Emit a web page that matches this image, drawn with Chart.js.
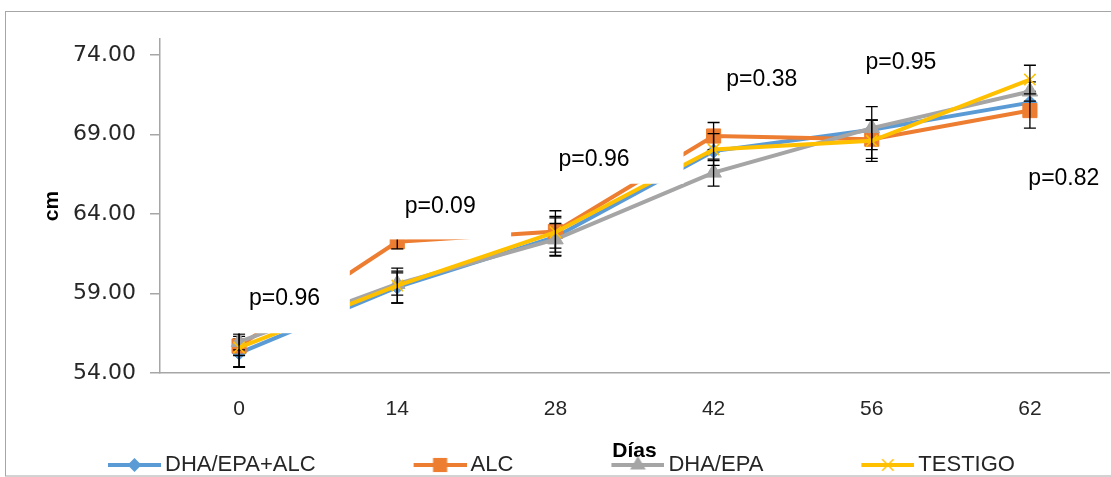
<!DOCTYPE html>
<html>
<head>
<meta charset="utf-8">
<script src="https://cdn.jsdelivr.net/npm/chart.js@4.4.1/dist/chart.umd.min.js"></script>
<style>
  html, body { margin: 0; padding: 0; background: #fff; }
  #wrap { width: 1111px; height: 477px; }
</style>
</head>
<body>
<div id="wrap"><canvas id="tallaChart"></canvas></div>
<script>
// Días de muestreo
const dias = ['0', '14', '28', '42', '56', '62'];

// Talla promedio (cm) por tratamiento
const dhaEpaAlc = [55.25, 59.4, 62.55, 67.95, 69.3, 71.0];
const alc       = [55.7, 62.25, 62.9, 68.9, 68.7, 70.5];
const dhaEpa    = [55.95, 59.6, 62.4, 66.6, 69.4, 71.7];
const testigo   = [55.6, 59.5, 62.85, 68.05, 68.6, 72.45];

// Desviación (barras de error)
const errDhaEpaAlc = [0.9, 1.0, 1.2, 0.6, 0.6, 0.7];
const errAlc       = [0.6, 0.45, 1.3, 0.85, 1.2, 1.1];
const errDhaEpa    = [0.5, 0.7, 1.0, 0.85, 1.35, 0.6];
const errTestigo   = [1.2, 1.1, 1.0, 1.0, 1.3, 0.9];

// Eje Y
const yTicks = [54, 59, 64, 69, 74];

// Valores p
const pValores = ['p=0.96', 'p=0.09', 'p=0.96', 'p=0.38', 'p=0.95', 'p=0.82'];

// cuadros de texto (en unidades de los ejes), tapan las líneas como en Excel
const cuadros = [
  { x0: -0.06, x1: 0.70, top: 60.9, bot: 56.5, tx: 0.063, ty: 58.69 },
  { x0: 0.93, x1: 1.72, top: 66.7, bot: 62.4, tx: 1.047, ty: 64.44 },
  { x0: 1.94, x1: 2.81, top: 69.6, bot: 65.9, tx: 2.02, ty: 67.44 },
  { x0: 3.01, x1: 3.68, top: 73.8, bot: 70.6, tx: 3.08, ty: 72.44 },
  { x0: 3.90, x1: 4.53, top: 74.8, bot: 71.8, tx: 3.96, ty: 73.5 },
  { x0: 4.93, x1: 5.49, top: 67.6, bot: 64.7, tx: 4.99, ty: 66.19 }
];

const FONT = "'Liberation Sans', Arial, sans-serif";

// dibuja un marcador simple
function marcador(ctx, estilo, x, y, r, color) {
  ctx.fillStyle = color;
  ctx.strokeStyle = color;
  ctx.beginPath();
  if (estilo === 'rectRot') {
    ctx.moveTo(x, y - r); ctx.lineTo(x + r, y); ctx.lineTo(x, y + r); ctx.lineTo(x - r, y);
    ctx.closePath(); ctx.fill();
  } else if (estilo === 'rect') {
    ctx.rect(x - r * 0.707, y - r * 0.707, r * 1.414, r * 1.414); ctx.fill();
  } else if (estilo === 'triangle') {
    ctx.moveTo(x, y - r); ctx.lineTo(x + r * 0.87, y + r * 0.5); ctx.lineTo(x - r * 0.87, y + r * 0.5);
    ctx.closePath(); ctx.fill();
  } else {
    ctx.lineWidth = 1.5;
    const d = r * 0.707;
    ctx.moveTo(x - d, y - d); ctx.lineTo(x + d, y + d);
    ctx.moveTo(x + d, y - d); ctx.lineTo(x - d, y + d);
    ctx.stroke();
  }
}

// icono de leyenda: línea con marcador (con espacio en blanco a la izquierda)
function iconoLeyenda(ds) {
  const c = document.createElement('canvas');
  c.width = 158; c.height = 22;
  const g = c.getContext('2d');
  g.strokeStyle = ds.borderColor;
  g.lineWidth = 4;
  g.beginPath(); g.moveTo(105, 11); g.lineTo(158, 11); g.stroke();
  marcador(g, ds.pointStyle, 131.5, 11, ds.pointRadius, ds.borderColor);
  return c;
}

const errorBars = {
  id: 'errorBars',
  afterDatasetDraw(chart, args) {
    const ds = chart.data.datasets[args.index];
    const y = chart.scales.y;
    const ctx = chart.ctx;
    ctx.save();
    ctx.strokeStyle = '#000';
    ctx.lineWidth = 1.3;
    args.meta.data.forEach((pt, j) => {
      const v = ds.data[j], e = ds.err[j];
      const t = y.getPixelForValue(v + e), b = y.getPixelForValue(v - e);
      ctx.beginPath();
      ctx.moveTo(pt.x, t); ctx.lineTo(pt.x, b);
      ctx.moveTo(pt.x - 6, t); ctx.lineTo(pt.x + 6, t);
      ctx.moveTo(pt.x - 6, b); ctx.lineTo(pt.x + 6, b);
      ctx.stroke();
    });
    ctx.restore();
  }
};

const etiquetasP = {
  id: 'etiquetasP',
  afterDatasetsDraw(chart) {
    const { ctx, scales: { x, y } } = chart;
    ctx.save();
    cuadros.forEach((c, i) => {
      const l = x.getPixelForValue(c.x0), r = x.getPixelForValue(c.x1);
      const t = y.getPixelForValue(c.top), b = y.getPixelForValue(c.bot);
      ctx.fillStyle = '#fff';
      ctx.fillRect(l, t, r - l, b - t);
      ctx.fillStyle = '#000';
      ctx.font = '23px ' + FONT;
      ctx.textAlign = 'left';
      ctx.textBaseline = 'middle';
      ctx.fillText(pValores[i], x.getPixelForValue(c.tx), y.getPixelForValue(c.ty));
    });
    ctx.restore();
  }
};

const marco = {
  id: 'marco',
  beforeDraw(chart) {
    const ctx = chart.ctx;
    ctx.save();
    ctx.fillStyle = '#fff';
    ctx.fillRect(0, 0, chart.width, chart.height);
    ctx.strokeStyle = '#a6a6a6';
    ctx.lineWidth = 1;
    ctx.strokeRect(5.5, 11.5, 1115, 464.5);
    ctx.restore();
  }
};

function serie(label, data, err, color, estilo, radio, orden) {
  return {
    label: label,
    data: data,
    err: err,
    borderColor: color,
    backgroundColor: color,
    borderWidth: 4,
    tension: 0,
    pointStyle: estilo,
    pointRadius: radio,
    pointBackgroundColor: color,
    pointBorderColor: color,
    pointBorderWidth: estilo === 'crossRot' ? 1.5 : 1,
    order: orden
  };
}

new Chart(document.getElementById('tallaChart').getContext('2d'), {
  type: 'line',
  data: {
    labels: dias,
    datasets: [
      serie('DHA/EPA+ALC', dhaEpaAlc, errDhaEpaAlc, '#5B9BD5', 'rectRot', 7, 4),
      serie('ALC', alc, errAlc, '#ED7D31', 'rect', 10, 3),
      serie('DHA/EPA', dhaEpa, errDhaEpa, '#A5A5A5', 'triangle', 9, 2),
      serie('TESTIGO', testigo, errTestigo, '#FFC000', 'crossRot', 8, 1)
    ]
  },
  options: {
    responsive: true,
    maintainAspectRatio: false,
    animation: false,
    devicePixelRatio: 1,
    layout: { autoPadding: false, padding: { top: 39, left: 10, right: 2, bottom: -9 } },
    plugins: {
      tooltip: { enabled: false },
      legend: {
        position: 'bottom',
        align: 'start',
        labels: {
          usePointStyle: true,
          pointStyleWidth: 144,
          boxHeight: 22,
          padding: 0,
          color: '#262626',
          font: { family: FONT, size: 22 },
          generateLabels: chart => chart.data.datasets.map((ds, i) => ({
            text: ds.label,
            pointStyle: iconoLeyenda(ds),
            fillStyle: ds.borderColor,
            strokeStyle: ds.borderColor,
            lineWidth: 0,
            hidden: false,
            datasetIndex: i,
            fontColor: '#262626'
          }))
        }
      }
    },
    scales: {
      x: {
        offset: true,
        grid: { display: true, drawOnChartArea: false, drawTicks: false },
        border: { display: true, color: '#a6a6a6', width: 1.5 },
        ticks: { color: '#262626', padding: 24, font: { family: FONT, size: 21 } },
        title: {
          display: true,
          text: 'Días',
          color: '#000',
          padding: { top: 0, bottom: -10 },
          font: { family: FONT, size: 21, weight: 'bold' }
        },
        afterFit: scale => { scale.height = 81; }
      },
      y: {
        min: 54,
        max: 75,
        afterBuildTicks: scale => { scale.ticks = yTicks.map(v => ({ value: v })); },
        grid: { display: true, drawOnChartArea: false, drawTicks: true, tickLength: 10, color: '#a6a6a6', lineWidth: 1.5 },
        border: { display: true, color: '#a6a6a6', width: 1.5 },
        ticks: {
          color: '#262626',
          padding: 14,
          font: { family: "'DejaVu Sans', sans-serif", size: 22 },
          callback: v => Number(v).toFixed(2)
        },
        title: {
          display: true,
          text: 'cm',
          color: '#000',
          padding: { top: 30, bottom: 0 },
          font: { family: FONT, size: 21, weight: 'bold' }
        },
        afterFit: scale => { scale.width = 150; }
      }
    }
  },
  plugins: [marco, errorBars, etiquetasP]
});
</script>
</body>
</html>
